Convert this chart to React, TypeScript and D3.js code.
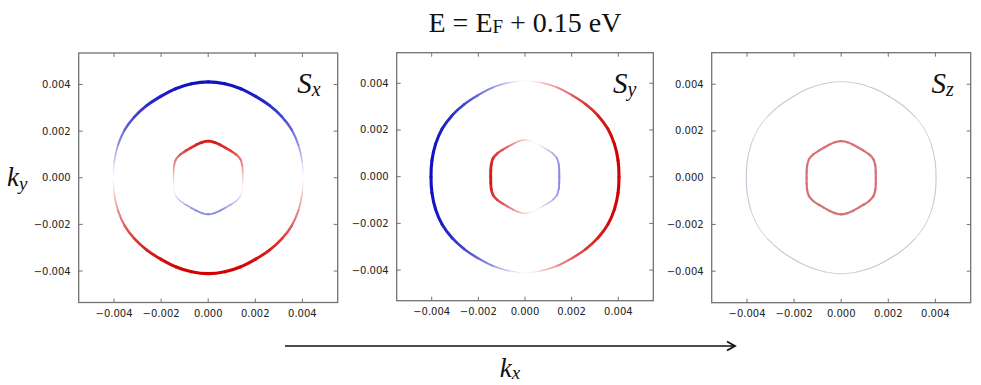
import React from 'react';
import * as d3 from 'd3';

// Fermi contours, k in units of 1e-3, counter-clockwise from +kx
const outerContour: [number, number][] = [
  [4.03, 0.0], [3.988, 0.703], [3.834, 1.395], [3.551, 2.05], [3.125, 2.623], [2.603, 3.102],
  [2.015, 3.49], [1.389, 3.815], [0.71, 4.028], [0.0, 4.11], [-0.71, 4.028], [-1.389, 3.815],
  [-2.015, 3.49], [-2.603, 3.102], [-3.125, 2.623], [-3.551, 2.05], [-3.834, 1.395], [-3.988, 0.703],
  [-4.03, 0.0], [-3.988, -0.703], [-3.834, -1.395], [-3.551, -2.05], [-3.125, -2.623], [-2.603, -3.102],
  [-2.015, -3.49], [-1.389, -3.815], [-0.71, -4.028], [0.0, -4.11], [0.71, -4.028], [1.389, -3.815],
  [2.015, -3.49], [2.603, -3.102], [3.125, -2.623], [3.551, -2.05], [3.834, -1.395], [3.988, -0.703],
];

const innerContour: [number, number][] = [
  [1.47, 0.0], [1.467, 0.259], [1.447, 0.527], [1.368, 0.79], [1.187, 0.996], [0.964, 1.149],
  [0.74, 1.282], [0.513, 1.41], [0.267, 1.517], [0.0, 1.57], [-0.267, 1.517], [-0.513, 1.41],
  [-0.74, 1.282], [-0.964, 1.149], [-1.187, 0.996], [-1.368, 0.79], [-1.447, 0.527], [-1.467, 0.259],
  [-1.47, 0.0], [-1.467, -0.259], [-1.447, -0.527], [-1.368, -0.79], [-1.187, -0.996], [-0.964, -1.149],
  [-0.74, -1.282], [-0.513, -1.41], [-0.267, -1.517], [0.0, -1.57], [0.267, -1.517], [0.513, -1.41],
  [0.74, -1.282], [0.964, -1.149], [1.187, -0.996], [1.368, -0.79], [1.447, -0.527], [1.467, -0.259],
];

// spin components at each contour point
const outerSx = [0, -0.22, -0.45, -0.64, -0.78, -0.88, -0.94, -0.98, -1, -1, -1, -0.98, -0.94, -0.88, -0.78, -0.64, -0.45, -0.22,
  0, 0.22, 0.45, 0.64, 0.78, 0.88, 0.94, 0.98, 1, 1, 1, 0.98, 0.94, 0.88, 0.78, 0.64, 0.45, 0.22];
const outerSy = [1, 1, 0.98, 0.94, 0.88, 0.78, 0.64, 0.45, 0.22, 0, -0.22, -0.45, -0.64, -0.78, -0.88, -0.94, -0.98, -1,
  -1, -1, -0.98, -0.94, -0.88, -0.78, -0.64, -0.45, -0.22, 0, 0.22, 0.45, 0.64, 0.78, 0.88, 0.94, 0.98, 1];
const outerSz = [0.12, 0.1, 0.06, 0, -0.06, -0.1, -0.12, -0.1, -0.06, 0, 0.06, 0.1, 0.12, 0.1, 0.06, 0, -0.06, -0.1,
  -0.12, -0.1, -0.06, 0, 0.06, 0.1, 0.12, 0.1, 0.06, 0, -0.06, -0.1, -0.12, -0.1, -0.06, 0, 0.06, 0.1];
const innerSx = [0.2, 0.32, 0.44, 0.55, 0.65, 0.74, 0.81, 0.86, 0.89, 0.9, 0.89, 0.86, 0.81, 0.74, 0.65, 0.55, 0.44, 0.32,
  0.2, 0.08, -0.04, -0.15, -0.25, -0.34, -0.41, -0.46, -0.49, -0.5, -0.49, -0.46, -0.41, -0.34, -0.25, -0.15, -0.04, 0.08];
const innerSy = [-0.5, -0.49, -0.46, -0.41, -0.34, -0.25, -0.15, -0.04, 0.08, 0.2, 0.32, 0.44, 0.55, 0.65, 0.74, 0.81, 0.86, 0.89,
  0.9, 0.89, 0.86, 0.81, 0.74, 0.65, 0.55, 0.44, 0.32, 0.2, 0.08, -0.04, -0.15, -0.25, -0.34, -0.41, -0.46, -0.49];
const innerSz = [0.6, 0.6, 0.6, 0.6, 0.6, 0.6, 0.6, 0.6, 0.6, 0.6, 0.6, 0.6, 0.6, 0.6, 0.6, 0.6, 0.6, 0.6,
  0.6, 0.6, 0.6, 0.6, 0.6, 0.6, 0.6, 0.6, 0.6, 0.6, 0.6, 0.6, 0.6, 0.6, 0.6, 0.6, 0.6, 0.6];

const tickValues = [-4, -2, 0, 2, 4];
const panelSubs = ['x', 'y', 'z'];

const W = 981;
const H = 385;
const serif = '"Liberation Serif", "Times New Roman", serif';
const sans = '"DejaVu Sans", sans-serif';

const panels = [
  { outer: outerSx, inner: innerSx, haze: 0, left: 78.7, right: 337.7, top: 53, bottom: 302.5, limY: 5.35 },
  { outer: outerSy, inner: innerSy, haze: 0, left: 396.7, right: 653.3, top: 52.7, bottom: 300.7, limY: 5.31 },
  { outer: outerSz, inner: innerSz, haze: 0.5, left: 711.7, right: 970.7, top: 52.7, bottom: 302.7, limY: 5.35 },
];

const spinColor = d3.scaleLinear<string>()
  .domain([-1, 0, 1])
  .range(['#1010c4', '#ffffff', '#d20000'])
  .interpolate(d3.interpolateRgb)
  .clamp(true);

const fmt = (t: number) => (t * 1e-3).toFixed(3).replace('-', '\u2212');

function Contour({ pts, vals, x, y, haze, id }: any) {
  const n = pts.length;
  const P = pts.map(([a, b]: number[]) => [x(a), y(b)]);
  const col = (v: number) => d3.interpolateRgb(spinColor(v), '#a09cae')(haze * (1 - Math.abs(v)));
  const wid = (v: number) => 0.9 + 2.2 * Math.abs(v);
  return (
    <g>
      {d3.range(n).map((i) => {
        const p0 = P[(i - 1 + n) % n], p1 = P[i], p2 = P[(i + 1) % n], p3 = P[(i + 2) % n];
        const path = d3.path();
        path.moveTo(p1[0], p1[1]);
        path.bezierCurveTo(
          p1[0] + (p2[0] - p0[0]) / 6, p1[1] + (p2[1] - p0[1]) / 6,
          p2[0] - (p3[0] - p1[0]) / 6, p2[1] - (p3[1] - p1[1]) / 6,
          p2[0], p2[1]
        );
        const v1 = vals[i], v2 = vals[(i + 1) % n];
        const gid = `${id}-${i}`;
        return (
          <g key={i}>
            <defs>
              <linearGradient id={gid} gradientUnits="userSpaceOnUse" x1={p1[0]} y1={p1[1]} x2={p2[0]} y2={p2[1]}>
                <stop offset="0" stopColor={col(v1)} />
                <stop offset="1" stopColor={col(v2)} />
              </linearGradient>
            </defs>
            <path d={path.toString()} fill="none" stroke={`url(#${gid})`}
              strokeWidth={(wid(v1) + wid(v2)) / 2} strokeLinecap="round" />
          </g>
        );
      })}
    </g>
  );
}

function Panel({ p, idx }: any) {
  const x = d3.scaleLinear().domain([-5.5, 5.5]).range([p.left, p.right]);
  const y = d3.scaleLinear().domain([-p.limY, p.limY]).range([p.bottom, p.top]);
  const frame = '#727272';
  return (
    <g>
      <rect x={p.left} y={p.top} width={p.right - p.left} height={p.bottom - p.top} fill="#fff" />
      <Contour pts={outerContour} vals={p.outer} x={x} y={y} haze={p.haze} id={`o${idx}`} />
      <Contour pts={innerContour} vals={p.inner} x={x} y={y} haze={p.haze} id={`i${idx}`} />
      {tickValues.map((t) => (
        <g key={t} stroke={frame} strokeWidth={1}>
          <line x1={x(t)} x2={x(t)} y1={p.bottom} y2={p.bottom - 4} />
          <line x1={x(t)} x2={x(t)} y1={p.top} y2={p.top + 4} />
          <line x1={p.left} x2={p.left + 4} y1={y(t)} y2={y(t)} />
          <line x1={p.right} x2={p.right - 4} y1={y(t)} y2={y(t)} />
        </g>
      ))}
      <rect x={p.left} y={p.top} width={p.right - p.left} height={p.bottom - p.top}
        fill="none" stroke={frame} strokeWidth={1.3} />
      {tickValues.map((t) => (
        <text key={`x${t}`} x={x(t)} y={p.bottom + 14} textAnchor="middle" fontFamily={sans} fontSize={10} fill="#222">
          {fmt(t)}
        </text>
      ))}
      {tickValues.map((t) => (
        <text key={`y${t}`} x={p.left - 8} y={y(t)} dy="0.35em" textAnchor="end" fontFamily={sans} fontSize={10} fill="#222">
          {fmt(t)}
        </text>
      ))}
      <text x={p.right - 17} y={p.top + 40} textAnchor="end" fontFamily={serif} fontStyle="italic" fontSize={29} fill="#111">
        S<tspan fontSize={20} dy={3}>{panelSubs[idx]}</tspan>
      </text>
    </g>
  );
}

export default function App() {
  return (
    <div style={{ position: 'absolute', left: 0, top: 0, width: W, height: H, background: '#fff' }}>
      <svg width={W} height={H} viewBox={`0 0 ${W} ${H}`}>
        <rect width={W} height={H} fill="#fff" />
        <text x={525} y={31.5} textAnchor="middle" fontFamily={serif} fontSize={28} fill="#111">
          E = E<tspan fontSize={19} dy={1.5}>F</tspan><tspan dy={-1.5}> + 0.15 eV</tspan>
        </text>
        {panels.map((p, i) => <Panel key={i} p={p} idx={i} />)}
        <text x={7} y={186} fontFamily={serif} fontStyle="italic" fontSize={27} fill="#111">
          k<tspan fontSize={19} dy={4}>y</tspan>
        </text>
        <line x1={285} x2={735} y1={346} y2={346} stroke="#111" strokeWidth={1.5} />
        <polyline points="727,341.5 735,346 727,350.5" fill="none" stroke="#111" strokeWidth={1.8} />
        <text x={510} y={377} textAnchor="middle" fontFamily={serif} fontStyle="italic" fontSize={27} fill="#111">
          k<tspan fontSize={19} dy={2}>x</tspan>
        </text>
      </svg>
    </div>
  );
}
